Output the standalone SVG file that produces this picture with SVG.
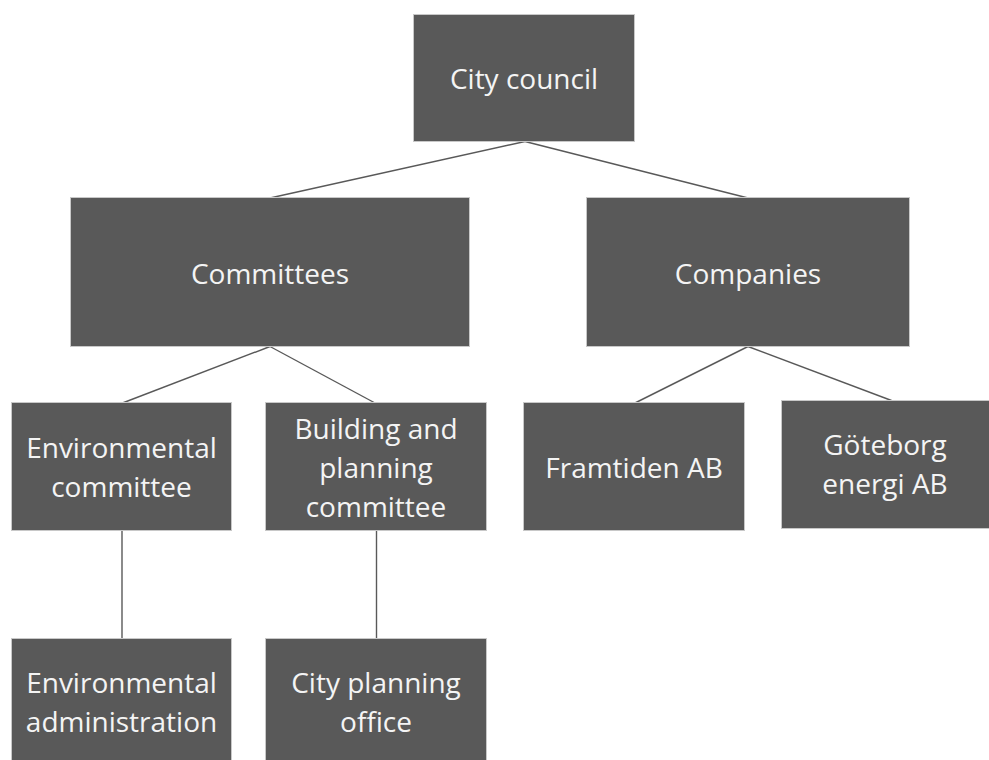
<svg xmlns="http://www.w3.org/2000/svg" width="989" height="760" viewBox="0 0 989 760">
  <style>
    .box { fill: #595959; stroke: #c8c8c8; stroke-width: 1; }
    .lbl { fill: #f4f4f4; font-family: "Open Sans", "Noto Sans", "Liberation Sans", sans-serif; font-size: 28px; text-anchor: middle; }
    .link { stroke: #595959; stroke-width: 1.4; fill: none; }
  </style>
  <rect width="989" height="760" fill="#ffffff"/>

  <!-- connectors -->
  <g id="connectors">
    <line class="link" x1="525" y1="141.5" x2="270" y2="198"/>
    <line class="link" x1="525" y1="141.5" x2="748" y2="198"/>
    <line class="link" x1="270" y1="346.5" x2="122.5" y2="403"/>
    <line class="link" x1="270" y1="346.5" x2="375" y2="403"/>
    <line class="link" x1="748" y1="346.5" x2="635" y2="403"/>
    <line class="link" x1="748" y1="346.5" x2="891.5" y2="400.5"/>
    <line class="link" x1="122" y1="530.5" x2="122" y2="638.5"/>
    <line class="link" x1="376.5" y1="530.5" x2="376.5" y2="638.5"/>
  </g>

  <g id="city-council">
    <rect class="box" x="413.5" y="14.5" width="221" height="127"/>
    <text class="lbl" x="524" y="89">City council</text>
  </g>

  <g id="committees">
    <rect class="box" x="70.5" y="197.5" width="399" height="149"/>
    <text class="lbl" x="270" y="284">Committees</text>
  </g>

  <g id="companies">
    <rect class="box" x="586.5" y="197.5" width="323" height="149"/>
    <text class="lbl" x="748" y="284">Companies</text>
  </g>

  <g id="environmental-committee">
    <rect class="box" x="11.5" y="402.5" width="220" height="128"/>
    <text class="lbl" x="121.5" y="458">Environmental</text>
    <text class="lbl" x="121.5" y="497">committee</text>
  </g>

  <g id="building-planning-committee">
    <rect class="box" x="265.5" y="402.5" width="221" height="128"/>
    <text class="lbl" x="376" y="439">Building and</text>
    <text class="lbl" x="376" y="478">planning</text>
    <text class="lbl" x="376" y="517">committee</text>
  </g>

  <g id="framtiden">
    <rect class="box" x="523.5" y="402.5" width="221" height="128"/>
    <text class="lbl" x="634" y="478">Framtiden AB</text>
  </g>

  <g id="goteborg-energi">
    <rect class="box" x="781.5" y="400.5" width="210" height="128"/>
    <text class="lbl" x="885" y="455">Göteborg</text>
    <text class="lbl" x="885" y="494">energi AB</text>
  </g>

  <g id="environmental-administration">
    <rect class="box" x="11.5" y="638.5" width="220" height="128"/>
    <text class="lbl" x="121.5" y="693">Environmental</text>
    <text class="lbl" x="121.5" y="732">administration</text>
  </g>

  <g id="city-planning-office">
    <rect class="box" x="265.5" y="638.5" width="221" height="128"/>
    <text class="lbl" x="376" y="693">City planning</text>
    <text class="lbl" x="376" y="732">office</text>
  </g>
</svg>
